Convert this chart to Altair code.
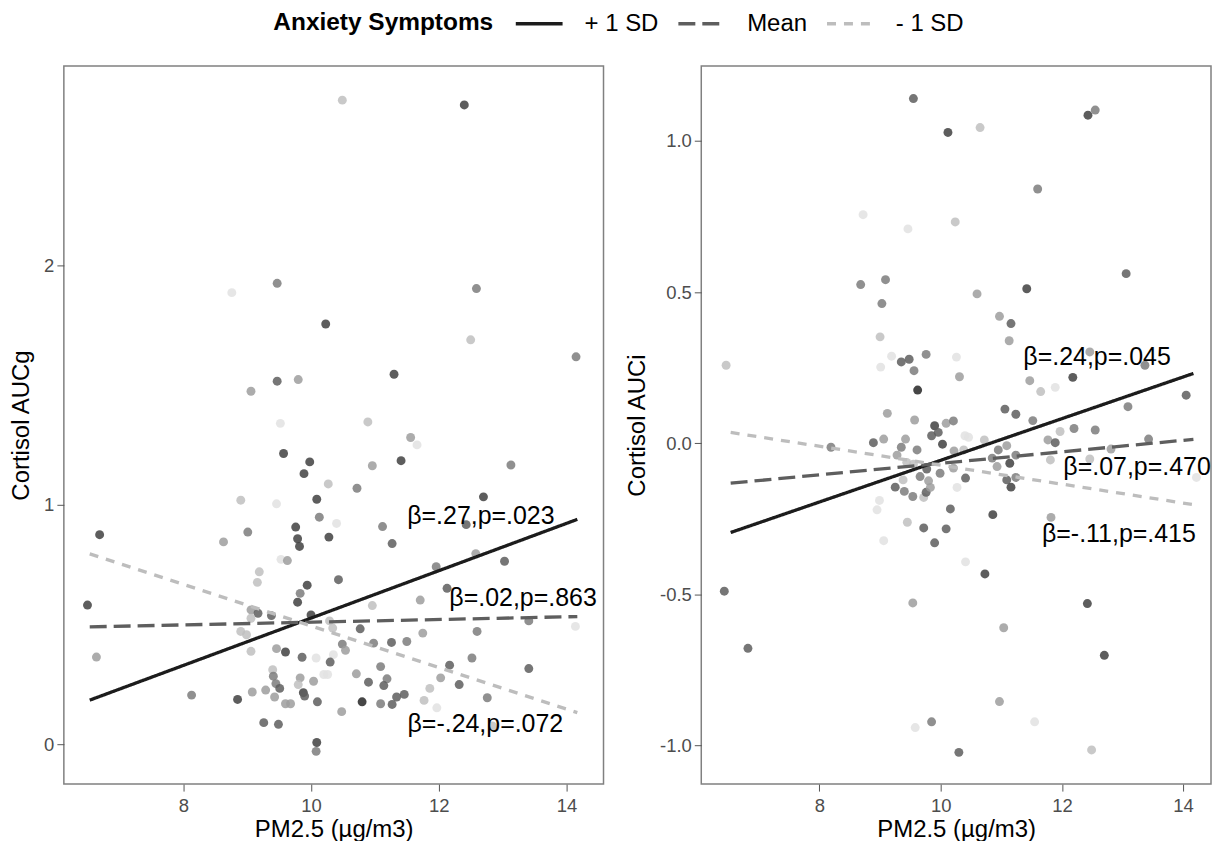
import altair as alt
import pandas as pd

# ---------------- data ----------------
SERIES = ["+ 1 SD", "Mean", "- 1 SD"]

# Left panel: Cortisol AUCg
L_pm = [10.49, 12.40, 9.47, 8.76, 12.59, 10.23, 12.50, 14.15, 11.30, 9.47, 9.80, 9.06,
        9.52, 10.89, 11.56, 11.66, 9.57, 9.98, 9.89, 10.96, 11.41, 13.13, 10.27, 10.72,
        8.90, 9.46, 10.09, 10.13, 10.40, 12.70, 12.43, 11.12, 9.76, 9.01, 6.69, 8.63,
        9.79, 9.82, 10.28, 11.27, 9.53, 9.63, 12.58, 13.03, 11.96, 9.19, 9.16, 10.43,
        9.94, 12.13, 9.83, 9.79, 6.50, 11.71, 10.96, 9.06, 9.17, 9.38, 10.00, 9.06,
        13.41, 14.14, 10.29, 10.34, 10.77, 8.90, 8.99, 11.75, 12.60, 10.49, 10.98, 11.26,
        11.50, 10.54, 9.46, 9.60, 9.06, 6.64, 9.86, 10.08, 10.35, 10.30, 12.52, 13.41,
        11.09, 12.17, 9.40, 9.41, 9.83, 10.20, 10.26, 10.71, 12.03, 10.04, 9.45, 9.80,
        10.90, 11.19, 11.14, 12.32, 9.51, 11.86, 9.29, 9.08, 8.13, 9.88, 9.90, 9.43,
        11.34, 11.46, 12.76, 8.85, 10.80, 11.09, 11.27, 10.10, 9.60, 9.68, 11.77, 11.97,
        10.48, 9.26, 9.49, 12.84, 10.09, 10.08]
L_auc = [2.69, 2.67, 1.925, 1.886, 1.903, 1.755, 1.689, 1.618, 1.545, 1.516, 1.523, 1.474,
         1.340, 1.346, 1.281, 1.25, 1.214, 1.179, 1.130, 1.163, 1.184, 1.166, 1.087, 1.069,
         1.019, 1.004, 1.023, 0.948, 0.922, 1.033, 0.917, 0.909, 0.907, 0.886, 0.875, 0.845,
         0.858, 0.826, 0.865, 0.838, 0.772, 0.767, 0.796, 0.764, 0.741, 0.720, 0.676, 0.687,
         0.664, 0.651, 0.630, 0.593, 0.581, 0.602, 0.579, 0.561, 0.547, 0.537, 0.540, 0.526,
         0.515, 0.492, 0.515, 0.485, 0.482, 0.471, 0.457, 0.464, 0.471, 0.418, 0.422, 0.425,
         0.429, 0.392, 0.399, 0.385, 0.388, 0.364, 0.363, 0.360, 0.374, 0.343, 0.360, 0.316,
         0.324, 0.330, 0.311, 0.284, 0.277, 0.291, 0.291, 0.294, 0.277, 0.263, 0.253, 0.249,
         0.259, 0.273, 0.245, 0.249, 0.233, 0.233, 0.226, 0.218, 0.205, 0.215, 0.201, 0.197,
         0.197, 0.208, 0.194, 0.187, 0.177, 0.169, 0.166, 0.177, 0.169, 0.169, 0.183, 0.152,
         0.136, 0.090, 0.083, 0.076, 0.007, -0.030]
L_anx = [2, 6, 4, 1, 4, 6, 2, 4, 6, 5, 3, 3,
         1, 2, 3, 1, 6, 6, 6, 3, 6, 4, 2, 4,
         2, 1, 6, 4, 1, 6, 5, 4, 6, 4, 6, 3,
         6, 6, 6, 5, 1, 3, 3, 5, 4, 2, 2, 5,
         6, 5, 4, 6, 6, 3, 2, 3, 5, 5, 6, 2,
         4, 1, 2, 2, 5, 2, 2, 3, 4, 4, 4, 5,
         4, 3, 3, 6, 2, 3, 5, 1, 1, 5, 4, 5,
         4, 5, 2, 4, 3, 1, 1, 3, 3, 3, 4, 2,
         5, 4, 5, 5, 5, 2, 3, 3, 4, 6, 5, 3,
         5, 5, 4, 6, 7, 4, 5, 5, 3, 3, 2, 1,
         3, 5, 5, 2, 6, 4]

# Right panel: Cortisol AUCi
R_pm = [9.55, 12.43, 12.55, 10.12, 10.65, 11.60, 8.72, 9.46, 10.24, 8.68, 9.09, 9.03,
        10.60, 11.42, 13.06, 10.97, 11.16, 11.13, 9.00, 6.46, 9.19, 9.01, 9.35, 9.48,
        9.76, 9.56, 10.26, 10.31, 11.47, 11.65, 11.89, 12.18, 12.46, 13.37, 14.05, 9.62,
        9.12, 9.57, 9.90, 10.09, 10.21, 8.89, 9.06, 9.42, 9.85, 9.96, 10.03, 9.35,
        9.61, 8.19, 9.28, 10.40, 10.46, 10.22, 10.38, 10.72, 10.95, 10.85, 10.93, 9.44,
        9.55, 9.77, 9.99, 10.21, 10.41, 9.66, 9.80, 9.38, 9.25, 9.40, 9.54, 9.72,
        9.76, 9.83, 10.27, 8.99, 8.95, 10.16, 10.86, 9.45, 9.72, 10.09, 9.06, 9.90,
        6.43, 6.82, 9.54, 9.58, 9.85, 10.30, 10.41, 10.73, 11.04, 10.97, 11.55, 12.42,
        12.49, 12.70, 11.82, 14.22, 13.09, 12.20, 12.55, 11.06, 11.24, 11.52, 11.97, 11.77,
        11.89, 11.81, 11.09, 11.14, 11.24, 11.09, 11.24, 11.16, 13.43, 12.46, 12.81]
R_auc = [1.140, 1.085, 1.102, 1.028, 1.044, 0.841, 0.756, 0.709, 0.732, 0.525, 0.541, 0.462,
         0.494, 0.511, 0.561, 0.420, 0.396, 0.339, 0.352, 0.258, 0.288, 0.252, 0.269, 0.278,
         0.294, 0.240, 0.285, 0.220, 0.207, 0.171, 0.185, 0.218, 0.302, 0.258, 0.159, 0.176,
         0.099, 0.077, 0.058, 0.066, 0.074, 0.002, 0.014, 0.014, 0.025, 0.036, -0.003, -0.013,
         -0.022, -0.013, -0.039, 0.025, 0.020, -0.025, -0.022, 0.011, -0.022, -0.049, -0.077, -0.063,
         -0.069, -0.085, -0.099, -0.082, -0.115, -0.110, -0.124, -0.121, -0.145, -0.159, -0.176, -0.179,
         -0.162, -0.146, -0.146, -0.189, -0.220, -0.217, -0.236, -0.261, -0.280, -0.283, -0.322, -0.329,
         -0.489, -0.678, -0.528, -0.940, -0.921, -1.022, -0.392, -0.432, -0.610, -0.854, -0.921, -0.530,
         -1.014, -0.701, -0.245, -0.113, 0.121, 0.049, 0.044, 0.113, 0.096, 0.075, 0.039, 0.011,
         0.002, -0.055, -0.008, -0.066, -0.039, -0.121, -0.113, -0.145, 0.014, -0.052, -0.019]
R_anx = [5, 6, 4, 6, 2, 4, 1, 1, 2, 4, 4, 4,
         3, 6, 5, 3, 5, 3, 2, 2, 1, 1, 5, 5,
         4, 4, 1, 3, 3, 2, 1, 6, 3, 4, 5, 7,
         3, 3, 6, 3, 4, 5, 3, 3, 5, 5, 6, 4,
         4, 4, 3, 1, 1, 3, 2, 2, 4, 4, 3, 2,
         2, 5, 4, 3, 5, 4, 3, 2, 5, 4, 4, 2,
         5, 3, 1, 1, 1, 5, 6, 2, 5, 5, 1, 5,
         5, 5, 3, 1, 4, 5, 1, 6, 3, 3, 1, 6,
         2, 6, 3, 1, 4, 4, 4, 5, 5, 4, 2, 3,
         5, 2, 3, 6, 4, 5, 4, 6, 4, 2, 3]

# simple-slope lines (end points)
LINE_PM = [6.535, 14.17]
L_plus = [0.184, 0.939]
L_mean = [0.490, 0.533]
L_minus = [0.795, 0.132]
R_plus = [-0.295, 0.231]
R_mean = [-0.132, 0.013]
R_minus = [0.036, -0.203]

# annotations
L_lab_text = ["β=.27,p=.023", "β=.02,p=.863", "β=-.24,p=.072"]
L_lab_pm = [12.66, 13.32, 12.73]
L_lab_y = [0.955, 0.609, 0.083]
R_lab_text = ["β=.24,p=.045", "β=.07,p=.470", "β=-.11,p=.415"]
R_lab_pm = [12.58, 13.24, 12.94]
R_lab_y = [0.286, -0.077, -0.300]

# ---------------- helpers ----------------
def lines_df(plus, mean, minus):
    rows = []
    for name, ys in zip(SERIES, [plus, mean, minus]):
        for x, y in zip(LINE_PM, ys):
            rows.append({"pm": x, "val": y, "series": name})
    return pd.DataFrame(rows)


color_scale = alt.Scale(domain=SERIES, range=["#1c1c1c", "#5e5e5e", "#bdbdbd"])
dash_scale = alt.Scale(domain=SERIES, range=[[1, 0], [17, 7], [9, 8]])
fill_scale = alt.Scale(domain=[1, 7], range=["#e2e2e2", "#262626"])

legend = alt.Legend(
    title="Anxiety Symptoms", orient="none", legendX=210, legendY=-68,
    direction="horizontal", titleOrient="left", titleFontSize=24.5,
    titleFontWeight="bold", titleColor="black", titlePadding=20,
    titleLimit=400, titleAnchor="middle", titleBaseline="line-top",
    titleLineHeight=12.5,
    labelFontSize=24, labelColor="black", symbolType="stroke",
    symbolSize=2200, symbolStrokeWidth=3.5, labelOffset=20, columnPadding=12,
)


def panel(pm, val, anx, ldf, lab_text, lab_pm, lab_y, xdom, ydom, ytitle,
          yvals, ylabelexpr, width):
    pts = pd.DataFrame({"pm": pm, "val": val, "anx": anx})
    labs = pd.DataFrame({"pm": lab_pm, "val": lab_y, "label": lab_text})
    xs = alt.Scale(domain=xdom, nice=False, zero=False)
    ys = alt.Scale(domain=ydom, nice=False, zero=False)
    xax = alt.Axis(values=[8, 10, 12, 14], grid=False, domain=False, tickSize=7,
                   tickColor="#555555", labelColor="#4d4d4d", labelFontSize=18.5,
                   labelPadding=5, titleFontSize=24, titleColor="black",
                   titleFontWeight="normal", titlePadding=3)
    yax = alt.Axis(values=yvals, grid=False, domain=False, tickSize=7,
                   tickColor="#555555", labelColor="#4d4d4d", labelFontSize=18.5,
                   labelPadding=3, titleFontSize=24, titleColor="black",
                   titleFontWeight="normal", titlePadding=10, labelExpr=ylabelexpr)
    x = alt.X("pm:Q", scale=xs, axis=xax, title="PM2.5 (µg/m3)")
    y = alt.Y("val:Q", scale=ys, axis=yax, title=ytitle)
    points = alt.Chart(pts).mark_circle(size=80, opacity=0.85).encode(
        x=x, y=y, fill=alt.Fill("anx:Q", scale=fill_scale, legend=None))
    lines = alt.Chart(ldf).mark_line(strokeWidth=3.3).encode(
        x=x, y=y,
        color=alt.Color("series:N", scale=color_scale, legend=legend),
        strokeDash=alt.StrokeDash("series:N", scale=dash_scale, legend=legend))
    text = alt.Chart(labs).mark_text(fontSize=25, align="center",
                                     baseline="middle", color="black").encode(
        x=x, y=y, text="label:N")
    return alt.layer(points, lines, text).properties(width=width, height=720)


left = panel(L_pm, L_auc, L_anx, lines_df(L_plus, L_mean, L_minus),
             L_lab_text, L_lab_pm, L_lab_y, [6.13, 14.58], [-0.1667, 2.833],
             "Cortisol AUCg", [0, 1, 2], "format(datum.value, 'd')", 541)
right = panel(R_pm, R_auc, R_anx, lines_df(R_plus, R_mean, R_minus),
              R_lab_text, R_lab_pm, R_lab_y, [6.05, 14.46], [-1.127, 1.248],
              "Cortisol AUCi", [-1, -0.5, 0, 0.5, 1],
              "(datum.value < 0 ? '-' : '') + format(abs(datum.value), '.1f')", 511)

chart = alt.hconcat(left, right, spacing=20).resolve_scale(
    x="independent", y="independent", color="shared", strokeDash="shared"
).configure(
    font="Liberation Sans",
    padding={"top": -11, "left": 0, "right": 0, "bottom": -3},
).configure_view(stroke="#808080", strokeWidth=1.5)

chart.save("out.html", embed_options={"renderer": "svg", "actions": False})
